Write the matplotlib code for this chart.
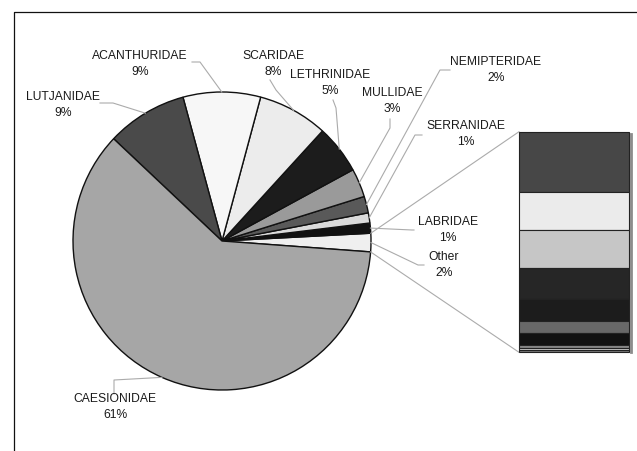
import numpy as np
import matplotlib.pyplot as plt

plt.rcParams['font.family'] = ['Liberation Sans', 'DejaVu Sans']

# pie slices, counter-clockwise from the "Other" slice
families = ['Other', 'LABRIDAE', 'SERRANIDAE', 'NEMIPTERIDAE', 'MULLIDAE',
            'LETHRINIDAE', 'SCARIDAE', 'ACANTHURIDAE', 'LUTJANIDAE', 'CAESIONIDAE']
shares = [2.0, 1.1, 1.1, 1.8, 3.1, 5.3, 7.6, 8.4, 8.75, 60.9]
pct_labels = ['2%', '1%', '1%', '2%', '3%', '5%', '8%', '9%', '9%', '61%']

# breakdown of "Other" shown in the bar, top to bottom (relative sizes)
other_parts = [60, 38.3, 38.3, 30.7, 21.7, 12.6, 11.7, 2.7, 2.3, 2.3]

pie_colors = ['#efefef', '#111111', '#dadada', '#595959', '#9a9a9a',
              '#1c1c1c', '#ececec', '#f7f7f7', '#4a4a4a', '#a6a6a6']
bar_colors = ['#474747', '#ebebeb', '#c6c6c6', '#262626', '#1c1c1c',
              '#686868', '#121212', '#8a8a8a', '#d0d0d0', '#777777']

# label block centres and leader start/elbow points (pixels)
label_pos = [(444, 265), (448, 230), (466, 134), (496, 70), (392, 101),
             (330, 83), (273, 64), (140, 64), (63, 105), (115, 407)]
leader_pts = [[(424, 265), (418, 265)], [(414, 230), (412, 230)],
              [(422, 135), (415, 135)], [(450, 70), (440, 70)],
              [(390, 119), (390, 128)], [(333, 100), (336, 108)],
              [(270, 80), (276, 90)], [(192, 62), (200, 62)],
              [(100, 103), (113, 103)], [(114, 394), (114, 380)]]

cx, cy, r = 222, 241, 149
bar_x0, bar_x1, bar_top, bar_h = 519, 629, 131.7, 220.6

fig = plt.figure(figsize=(6.37, 4.51), dpi=100)
ax = fig.add_axes([0, 0, 1, 1])

wedges, _ = ax.pie(shares, colors=pie_colors, center=(cx, cy), radius=r,
                   startangle=4.2, counterclock=False, frame=True,
                   wedgeprops=dict(edgecolor='#111111', linewidth=1.0))
ax.set_xlim(0, 637)
ax.set_ylim(451, 0)
ax.set_aspect('equal')
ax.axis('off')


def rim(angle):
    a = np.radians(angle)
    return cx + r * np.cos(a), cy + r * np.sin(a)


# labels with leader lines
for w, name, pct, pos, pts in zip(wedges, families, pct_labels, label_pos, leader_pts):
    mx, my = rim((w.theta1 + w.theta2) / 2)
    xs = [p[0] for p in pts] + [mx]
    ys = [p[1] for p in pts] + [my]
    ax.plot(xs, ys, color='#ababab', lw=0.8, zorder=1)
    ax.text(pos[0], pos[1], name + '\n' + pct, ha='center', va='center',
            fontsize=8.7, color='#1a1a1a', linespacing=1.35)

# bar of "Other"
scale = bar_h / sum(other_parts)
y = bar_top
for v, c in zip(other_parts, bar_colors):
    ax.bar((bar_x0 + bar_x1) / 2, v * scale, width=bar_x1 - bar_x0, bottom=y,
           color=c, edgecolor='#222222', linewidth=0.8, zorder=3)
    y += v * scale
ax.plot([bar_x1 + 2, bar_x1 + 2], [bar_top + 2, bar_top + bar_h], color='#8c8c8c', lw=2, zorder=2)

# connectors from the "Other" slice to the bar
ox1, oy1 = rim(wedges[0].theta1)
ox2, oy2 = rim(wedges[0].theta2)
ax.plot([ox1, bar_x0], [oy1, bar_top], color='#ababab', lw=0.8, zorder=1)
ax.plot([ox2, bar_x0], [oy2, bar_top + bar_h], color='#ababab', lw=0.8, zorder=1)

# chart area border (cut off at the right and bottom)
ax.plot([13.5, 13.5, 637], [451, 11.5, 11.5], color='#111111', lw=0.9, clip_on=False)

fig.savefig('out.png', dpi=100)
